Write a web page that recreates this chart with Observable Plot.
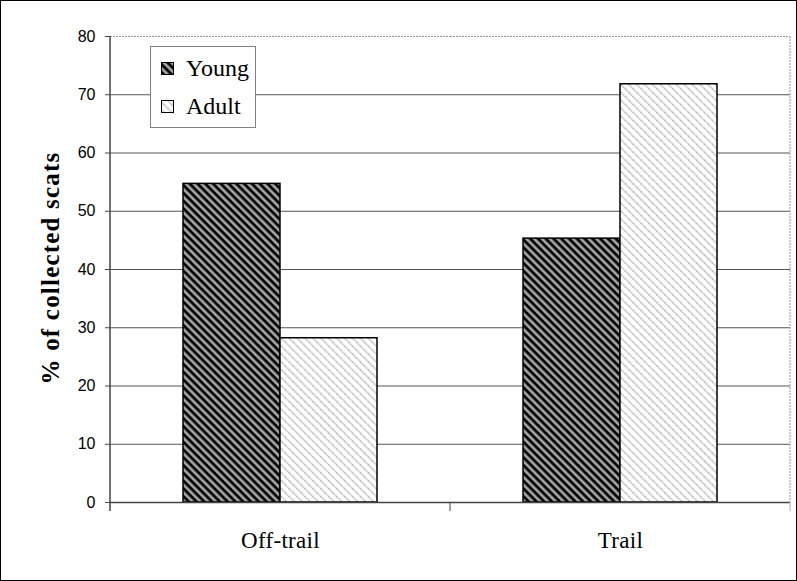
<!DOCTYPE html>
<html><head><meta charset="utf-8">
<script src="https://cdn.jsdelivr.net/npm/d3@7"></script>
<script src="https://cdn.jsdelivr.net/npm/@observablehq/plot@0.6"></script>
<style>
body{margin:0;background:#fff;}
#fig{position:relative;width:795px;height:579px;border:1px solid #000;background:#fff;overflow:hidden;}
#legend{position:absolute;left:149px;top:45px;width:104px;height:80px;border:1px solid #808080;background:#fff;
  font-family:"Liberation Serif","Times New Roman",serif;font-size:24px;color:#000;}
.item{position:absolute;left:10px;height:26px;line-height:26px;white-space:nowrap;}
.item svg{position:absolute;left:0;top:7px;}
.item span{position:absolute;left:25px;top:0;}
#ylabel{position:absolute;left:50px;top:267px;transform:translate(-50%,-50%) rotate(-90deg);white-space:nowrap;
  font-family:"Liberation Serif","Times New Roman",serif;font-size:25px;font-weight:bold;letter-spacing:1.2px;color:#000;}
</style></head>
<body>
<svg width="0" height="0" style="position:absolute">
  <defs>
    <pattern id="hYoung" patternUnits="userSpaceOnUse" width="5.5" height="5.5" patternTransform="rotate(45)">
      <rect width="5.5" height="5.5" fill="#8a8a8a"></rect>
      <rect y="0" width="5.5" height="2.5" fill="#000"></rect>
      <rect y="3.6" width="5.5" height="0.7" fill="#c4c4c4"></rect>
    </pattern>
    <pattern id="hAdult" patternUnits="userSpaceOnUse" width="5.6" height="5.6" patternTransform="rotate(45)">
      <rect width="5.6" height="5.6" fill="#fff"></rect>
      <line x1="0" y1="1" x2="5.6" y2="1" stroke="#a0a0a0" stroke-width="1.3" stroke-dasharray="1.4 0.7"></line>
    </pattern>
  </defs>
</svg>
<div id="fig">
  <div id="chart"></div>
  <div id="ylabel"></div>
  <div id="legend"></div>
</div>
<script>
// ---- data ----
const categories = ["Off-trail", "Trail"];
const seriesNames = ["Young", "Adult"];
const youngValues = [54.7, 45.3];
const adultValues = [28.2, 71.8];
const yTicks = [0, 10, 20, 30, 40, 50, 60, 70, 80];
const yLabel = "% of collected scats";
const patterns = {Young: "url(#hYoung)", Adult: "url(#hAdult)"};

const youngData = categories.map((c, i) => ({category: c, series: "Young", value: youngValues[i]}));
const adultData = categories.map((c, i) => ({category: c, series: "Adult", value: adultValues[i]}));

const plot = Plot.plot({
  width: 795,
  height: 579,
  marginLeft: 109,
  marginRight: 6,
  marginTop: 35,
  marginBottom: 78,
  style: {background: "#fff", color: "#000", fontFamily: "'Liberation Sans', Arial, sans-serif", fontSize: "16px", overflow: "visible"},
  fx: {domain: categories, padding: 0, label: null},
  x: {domain: seriesNames, paddingInner: 0, paddingOuter: 0.735, axis: null},
  y: {domain: [0, 80], label: null},
  marks: [
    Plot.ruleY(yTicks.filter(d => d > 0 && d < 80), {stroke: "#555", strokeWidth: 1}),
    Plot.ruleY([80], {stroke: "#9a9a9a", strokeWidth: 1, strokeDasharray: "2 1"}),
    Plot.barY(youngData, {fx: "category", x: "series", y: "value", fill: patterns.Young, stroke: "#000", strokeWidth: 1.5}),
    Plot.barY(adultData, {fx: "category", x: "series", y: "value", fill: patterns.Adult, stroke: "#000", strokeWidth: 1.5}),
    Plot.ruleY([0], {stroke: "#444", strokeWidth: 1.5}),
    Plot.axisY({ticks: yTicks, tickSize: 5, tickPadding: 10, tickFormat: d => String(d), stroke: "#444",
      fontSize: 16, fontFamily: "'Liberation Sans', Arial, sans-serif", label: null}),
    Plot.axisFx({anchor: "bottom", tickSize: 0, tickPadding: 29, fontSize: 23, label: null,
      fontFamily: "'Liberation Serif', 'Times New Roman', serif"})
  ]
});
document.getElementById("chart").appendChild(plot);
d3.select(plot).selectAll('g[aria-label="fx-axis tick label"] text').style("letter-spacing", "0.3px");

// axis lines and category separator ticks, positioned from the chart's own scales
const svg = d3.select(plot);
const fxS = plot.scale("fx"), yS = plot.scale("y");
const y0 = yS.apply(0), yTop = yS.apply(80);
const edges = categories.map(c => fxS.apply(c));
edges.push(edges[edges.length - 1] + fxS.step);
const g = svg.append("g").attr("aria-label", "axis lines");
g.append("line").attr("x1", edges[0]).attr("x2", edges[0]).attr("y1", yTop).attr("y2", y0 + 9)
  .attr("stroke", "#444").attr("stroke-width", 1.5);
g.append("line").attr("x1", edges[edges.length - 1]).attr("x2", edges[edges.length - 1]).attr("y1", yTop).attr("y2", y0)
  .attr("stroke", "#9a9a9a").attr("stroke-dasharray", "2 1");
edges.slice(1).forEach((e, i) => {
  g.append("line").attr("x1", e).attr("x2", e).attr("y1", y0).attr("y2", y0 + 9)
    .attr("stroke", i === edges.length - 2 ? "#aaa" : "#444").attr("stroke-width", 1);
});

// y label
document.getElementById("ylabel").textContent = yLabel;

// legend
const legend = document.getElementById("legend");
seriesNames.forEach((s, i) => {
  const item = document.createElement("div");
  item.className = "item";
  item.style.top = (8 + i * 38) + "px";
  item.innerHTML = `<svg width="13" height="13"><rect x="0.5" y="0.5" width="12" height="12" fill="${patterns[s]}" stroke="#000" stroke-width="1"></rect></svg><span>${s}</span>`;
  legend.appendChild(item);
});
</script>
</body></html>
